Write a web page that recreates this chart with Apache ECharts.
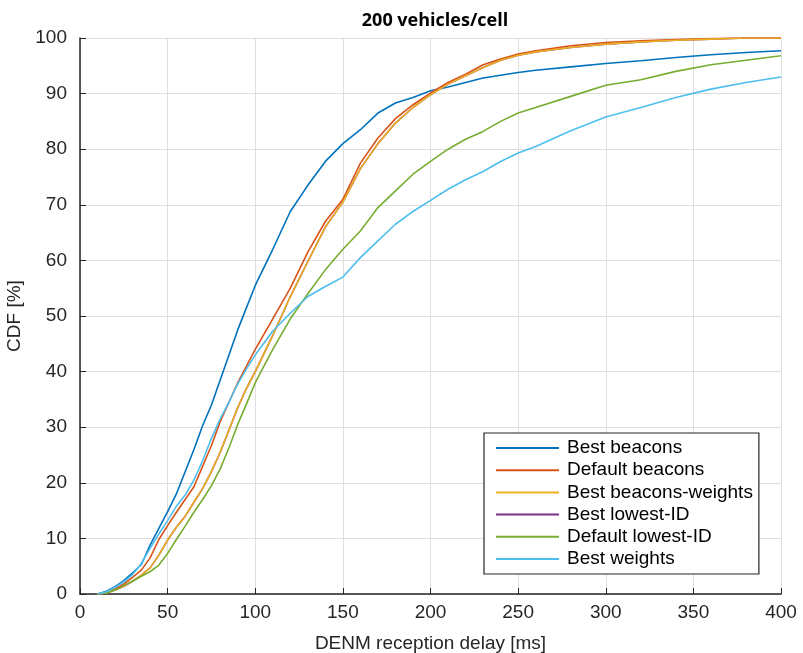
<!DOCTYPE html>
<html>
<head>
<meta charset="utf-8">
<script src="https://cdn.jsdelivr.net/npm/echarts@6/dist/echarts.min.js"></script>
<style>
html, body { margin: 0; padding: 0; background: #fff; }
#chart { width: 803px; height: 653px; }
</style>
</head>
<body>
<div id="chart"></div>
<script>
// delay samples [ms]
var delays = [10, 15, 20, 25, 30, 35, 40, 45, 50, 55, 60, 65, 70, 75, 80, 85, 90, 95, 100,
  110, 120, 130, 140, 150, 160, 170, 180, 190, 200, 210, 220, 230, 240, 250, 260,
  280, 300, 320, 340, 360, 380, 400];

// CDF values [%]
var bestBeacons = [0, 0.5, 1.3, 2.4, 3.8, 5.3, 8.8, 11.8, 14.8, 18, 22, 26, 30.3, 34, 38.5, 43, 47.5, 51.5, 55.5,
  62, 68.8, 73.5, 77.8, 81, 83.5, 86.5, 88.3, 89.3, 90.5, 91.2, 92, 92.8, 93.3, 93.8, 94.2,
  94.8, 95.4, 95.9, 96.5, 97.0, 97.4, 97.7];
var defaultBeacons = [0, 0.3, 0.9, 1.8, 3, 4.3, 6.5, 9.8, 12.3, 14.7, 17, 19.3, 23, 26.7, 31, 34.5, 38, 41, 44,
  49.5, 55, 61.5, 67, 71, 77.5, 82, 85.5, 88, 90.1, 92, 93.5, 95.2, 96.2, 97.1, 97.7,
  98.6, 99.2, 99.5, 99.7, 99.9, 100, 100];
var bestBeaconsWeights = [0, 0.2, 0.7, 1.4, 2.3, 3.4, 4.7, 7, 9.7, 12, 14, 16.5, 19, 22, 25.5, 29.5, 33.5, 37, 40,
  46.5, 53.5, 59.8, 66, 70.5, 76.5, 81, 84.7, 87.5, 89.8, 91.7, 93.2, 94.7, 96, 96.9, 97.5,
  98.3, 98.9, 99.3, 99.6, 99.8, 100, 100];
var bestLowestId = bestBeaconsWeights.slice();
var defaultLowestId = [0, 0.2, 0.7, 1.5, 2.3, 3.2, 4, 5.2, 7.3, 9.8, 12.2, 14.7, 17, 19.5, 22.5, 26.3, 30.5, 34.2, 38,
  44, 49.5, 54, 58.3, 62, 65.3, 69.5, 72.5, 75.5, 77.8, 80, 81.8, 83.2, 85, 86.5, 87.5,
  89.5, 91.5, 92.5, 94, 95.2, 96, 96.8];
var bestWeights = [0, 0.4, 1.2, 2.2, 3.5, 5.5, 8.2, 10.8, 13.2, 15.8, 17.8, 20.5, 24, 28, 31.5, 34.5, 37.8, 40.5, 43,
  47.3, 50.5, 53.5, 55.3, 57, 60.5, 63.5, 66.5, 68.8, 70.8, 72.8, 74.5, 76, 77.8, 79.3, 80.5,
  83.3, 85.8, 87.5, 89.3, 90.8, 92, 93];

var xTicks = [0, 50, 100, 150, 200, 250, 300, 350, 400];

function pairs(vals) {
  return delays.map(function (d, i) { return [d, vals[i]]; });
}

function line(name, color, vals, z) {
  return {
    name: name,
    type: 'line',
    data: pairs(vals),
    symbol: 'none',
    z: z,
    lineStyle: { color: color, width: 1.6 },
    itemStyle: { color: color }
  };
}

var chart = echarts.init(document.getElementById('chart'));
var txt = '#262626';
var font = 'Liberation Sans';

chart.setOption({
  backgroundColor: '#fff',
  animation: false,
  title: {
    text: '200 vehicles/cell',
    left: 430,
    textAlign: 'center',
    top: 7,
    textStyle: { fontFamily: 'Open Sans', fontWeight: 'bold', fontSize: 18, color: '#000' }
  },
  grid: { left: 80, right: 22, top: 38, bottom: 59, outerBoundsMode: 'none', containLabel: false },
  legend: {
    orient: 'vertical',
    left: 484,
    top: 433,
    icon: 'rect',
    itemWidth: 63,
    itemHeight: 2,
    itemGap: 0.2,
    padding: [4, 6, 4, 12],
    backgroundColor: '#fff',
    borderColor: txt,
    borderWidth: 1.2,
    borderRadius: 0,
    textStyle: { fontFamily: font, fontSize: 19, lineHeight: 22, color: '#000', padding: [0, 0, 0, 3] },
    data: ['Best beacons', 'Default beacons', 'Best beacons-weights', 'Best lowest-ID', 'Default lowest-ID', 'Best weights']
  },
  xAxis: {
    type: 'value',
    min: 0,
    max: 400,
    interval: 50,
    name: 'DENM reception delay [ms]',
    nameLocation: 'middle',
    nameGap: 40,
    nameTextStyle: { fontFamily: font, fontSize: 19, color: txt },
    axisLine: { show: true, lineStyle: { color: txt, width: 1.5 } },
    axisTick: { show: true, inside: true, length: 6, lineStyle: { color: txt } },
    axisLabel: { fontFamily: font, fontSize: 19, color: txt, margin: 9,
      formatter: function (v) { return xTicks.indexOf(v) >= 0 ? v : ''; } },
    splitLine: { show: true, lineStyle: { color: '#dedede', width: 1 } }
  },
  yAxis: {
    type: 'value',
    min: 0,
    max: 100,
    interval: 10,
    name: 'CDF [%]',
    nameLocation: 'middle',
    nameGap: 49,
    nameTextStyle: { fontFamily: font, fontSize: 19, color: txt },
    axisLine: { show: true, lineStyle: { color: txt, width: 1.5 } },
    axisTick: { show: true, inside: true, length: 6, lineStyle: { color: txt } },
    axisLabel: { fontFamily: font, fontSize: 19, color: txt, margin: 13 },
    splitLine: { show: true, lineStyle: { color: '#dedede', width: 1 } }
  },
  series: [
    line('Best beacons', '#0072BD', bestBeacons, 3),
    line('Default beacons', '#D95319', defaultBeacons, 3),
    line('Best beacons-weights', '#EDB120', bestBeaconsWeights, 3),
    line('Best lowest-ID', '#7E2F8E', bestLowestId, 2),
    line('Default lowest-ID', '#77AC30', defaultLowestId, 3),
    line('Best weights', '#4DBEEE', bestWeights, 3)
  ]
});
</script>
</body>
</html>
